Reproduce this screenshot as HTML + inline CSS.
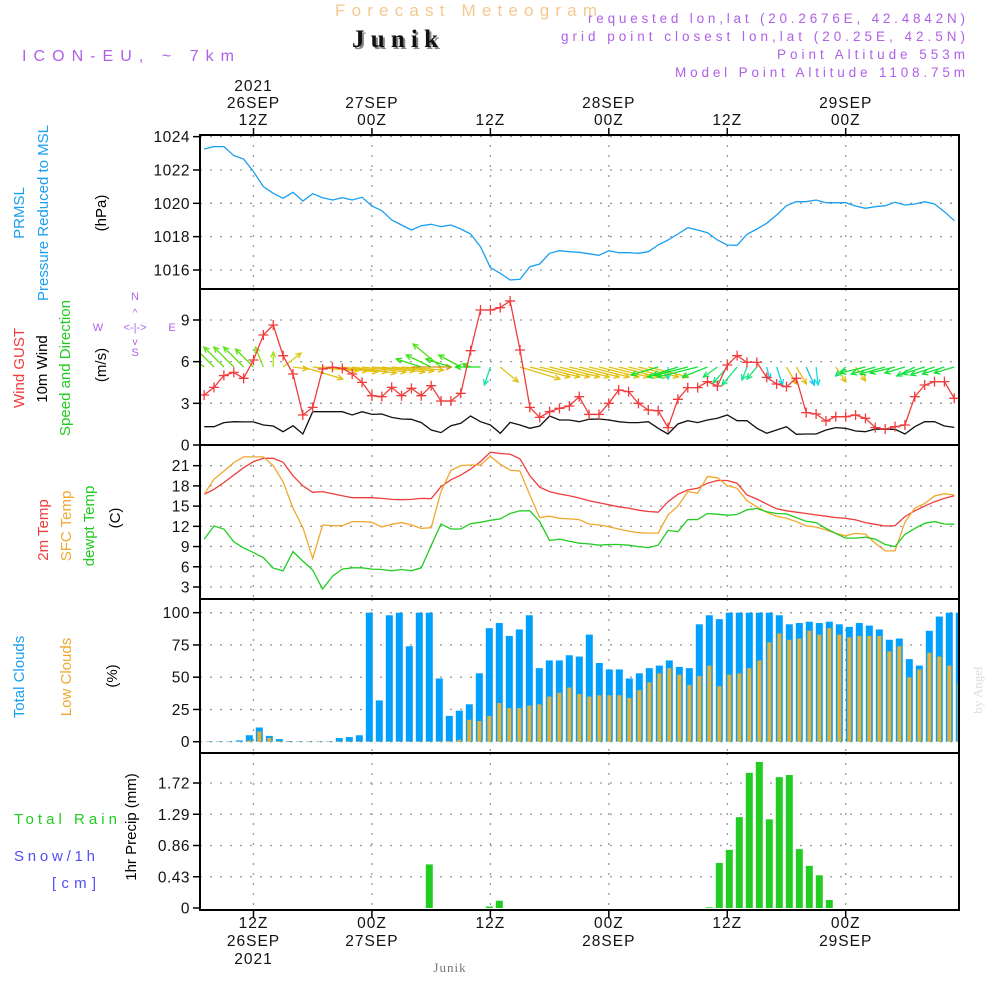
<!DOCTYPE html>
<html><head><meta charset="utf-8"><style>
html,body{margin:0;padding:0;background:#fff;}
svg{display:block;font-family:"Liberation Sans",sans-serif;}
</style></head><body>
<svg id="chart" width="1000" height="1000" viewBox="0 0 1000 1000" xmlns="http://www.w3.org/2000/svg">
<rect x="0" y="0" width="1000" height="1000" fill="#fff"/>
<g>
<text x="335" y="16" font-size="17" fill="#f5c890" textLength="262" lengthAdjust="spacing">Forecast Meteogram</text>
<text x="354" y="49" font-size="25" font-weight="bold" fill="#888" font-family="Liberation Serif, serif" textLength="86" lengthAdjust="spacing">Junik</text>
<text x="352" y="47" font-size="25" font-weight="bold" fill="#111" font-family="Liberation Serif, serif" textLength="86" lengthAdjust="spacing">Junik</text>
<text x="22" y="61" font-size="16" fill="#b060e8" textLength="212" lengthAdjust="spacing">ICON-EU, ~ 7km</text>
<g font-size="13.5" fill="#b060e8">
<text x="588" y="23" textLength="377" lengthAdjust="spacing">requested lon,lat (20.2676E, 42.4842N)</text>
<text x="561" y="41" textLength="404" lengthAdjust="spacing">grid point closest lon,lat (20.25E, 42.5N)</text>
<text x="777" y="59" textLength="188" lengthAdjust="spacing">Point Altitude 553m</text>
<text x="675" y="77" textLength="290" lengthAdjust="spacing">Model Point Altitude 1108.75m</text>
</g>
</g>
<g font-size="15">
<text transform="translate(24,213) rotate(-90)" text-anchor="middle" fill="#1a9ff0">PRMSL</text>
<text transform="translate(48,213) rotate(-90)" text-anchor="middle" fill="#1a9ff0">Pressure Reduced to MSL</text>
<text transform="translate(106,213) rotate(-90)" text-anchor="middle" fill="#000">(hPa)</text>
<text transform="translate(24,368) rotate(-90)" text-anchor="middle" fill="#f03c3c">Wind GUST</text>
<text transform="translate(47,369) rotate(-90)" text-anchor="middle" fill="#000">10m Wind</text>
<text transform="translate(70,368) rotate(-90)" text-anchor="middle" fill="#22cc22">Speed and Direction</text>
<text transform="translate(106,365) rotate(-90)" text-anchor="middle" fill="#000">(m/s)</text>
<g fill="#b060e8" font-size="11" text-anchor="middle">
<text x="98" y="331">W</text><text x="172" y="331">E</text><text x="135" y="300">N</text><text x="135" y="356">S</text>
<text x="135" y="331">&lt;-|-&gt;</text><text x="135" y="316" font-size="10">^</text><text x="135" y="345" font-size="10">v</text>
</g>
<text transform="translate(48,530) rotate(-90)" text-anchor="middle" fill="#f03c3c">2m Temp</text>
<text transform="translate(71,526) rotate(-90)" text-anchor="middle" fill="#f0a830">SFC Temp</text>
<text transform="translate(94,526) rotate(-90)" text-anchor="middle" fill="#22cc22">dewpt Temp</text>
<text transform="translate(120,518) rotate(-90)" text-anchor="middle" fill="#000">(C)</text>
<text transform="translate(24,677) rotate(-90)" text-anchor="middle" fill="#1a9ff0">Total Clouds</text>
<text transform="translate(71,677) rotate(-90)" text-anchor="middle" fill="#f0a830">Low Clouds</text>
<text transform="translate(117,676) rotate(-90)" text-anchor="middle" fill="#000">(%)</text>
<text x="14" y="824" fill="#22cc22" textLength="103" lengthAdjust="spacing">Total   Rain</text>
<text x="14" y="861" fill="#5050f0" textLength="81" lengthAdjust="spacing">Snow/1h</text>
<text x="52" y="888" fill="#5050f0" textLength="44" lengthAdjust="spacing">[cm]</text>
<text transform="translate(136,827) rotate(-90)" text-anchor="middle" fill="#000">1hr Precip (mm)</text>
<text transform="translate(982,690) rotate(-90)" text-anchor="middle" fill="#ddd" font-size="13" font-family="Liberation Serif, serif">by Angel</text>
<text x="450" y="972" text-anchor="middle" fill="#777" font-size="13" font-family="Liberation Serif, serif" letter-spacing="1">Junik</text>
</g>
<g id="plots"></g>
</svg>
<script>
const hours = []; for (let h = -5; h <= 71; h++) hours.push(h);
const pressure = [1023.26,1023.4,1023.4,1022.86,1022.66,1021.9,1021.0,1020.6,1020.3,1020.66,1020.14,1020.58,1020.34,1020.2,1020.34,1020.2,1020.36,1019.84,1019.56,1019.0,1018.7,1018.4,1018.66,1018.74,1018.6,1018.7,1018.46,1018.16,1017.4,1016.14,1015.8,1015.4,1015.44,1016.2,1016.36,1017.0,1017.16,1017.1,1017.06,1016.97,1016.88,1017.16,1017.04,1017.04,1017.0,1017.1,1017.5,1017.8,1018.16,1018.54,1018.4,1018.24,1017.8,1017.5,1017.48,1018.14,1018.46,1018.8,1019.3,1019.86,1020.1,1020.1,1020.2,1020.04,1020.04,1020.04,1019.84,1019.7,1019.8,1019.86,1020.06,1019.9,1019.96,1020.1,1019.96,1019.5,1018.96];
const gust = [3.6,4.15,5.0,5.23,4.8,6.12,7.92,8.64,6.43,5.11,2.16,2.71,5.47,5.6,5.52,5.11,4.51,3.55,3.48,4.15,3.55,4.08,3.55,4.27,3.17,3.17,3.72,6.79,9.72,9.72,9.89,10.37,6.84,2.71,1.99,2.4,2.64,2.81,3.48,2.2,2.2,3.0,3.96,3.84,3.0,2.52,2.47,1.25,3.29,4.13,4.13,4.56,4.25,5.76,6.43,5.95,5.95,4.87,4.39,4.2,4.8,2.33,2.23,1.73,2.04,2.04,2.16,1.92,1.25,1.15,1.32,1.44,3.48,4.32,4.56,4.56,3.36];
const windSpeed = [1.32,1.32,1.61,1.68,1.66,1.66,1.44,1.37,0.96,1.39,0.79,2.4,2.4,2.4,2.4,2.16,2.4,2.2,2.23,1.99,1.87,1.85,1.61,1.08,0.89,1.39,1.56,2.09,1.68,1.44,0.84,1.63,1.44,1.2,1.37,2.09,1.8,1.8,1.68,1.85,1.87,1.8,1.68,1.61,1.61,1.68,1.2,0.79,1.51,1.75,1.61,1.8,1.92,2.16,1.75,1.75,1.2,0.84,1.08,1.32,0.77,0.79,0.79,1.08,1.25,1.2,1.01,0.96,1.15,1.13,1.13,0.79,1.32,1.68,1.68,1.37,1.27];
const windU = [-1.5,-2,-2,-2,-2,-1.8,-0.8,0,1.8,1.5,4,4.5,4.5,4.5,4.5,4.4,4.4,4.3,4.3,4.2,4.2,4.0,-2.5,-2.5,-2.8,-2.5,-2.2,-0.8,-2.5,-0.6,1.8,0,4,4,4,4,4,4,4,4,4,4,4,4,4,4,-2.7,0,-2.5,-4,-4,-2.5,-1.4,-1.4,-1.5,-0.5,-1,0.3,0.6,1,1,0.8,0.2,0,1,-1,1,-2.5,-2.4,-2.5,-2.5,-2,-1.8,-2.2,-2.4,-2.2,-2];
const windV = [1.2,2,2,2,2,1.8,2,1.5,1.4,-0.2,-1.2,-0.4,-0.4,-0.5,-0.5,-0.6,-0.5,-0.4,-0.5,-0.4,-0.3,0,0.8,1.2,2.3,0.8,1.2,0.3,0,-1.8,-1.5,0,-1.2,-1,-1,-1,-1,-1,-1,-1,-1,-1,-1,-1,-1,-1,-0.8,-1.2,-0.8,-1,-1,-1,-1,-1.6,-1.8,-1.3,-1.2,-1.2,-1.8,-1.7,-1.7,-1.8,-1.8,0,-1.5,-0.9,-1.4,-0.6,-0.7,-0.7,-0.6,-0.6,-0.9,-0.7,-0.8,-0.7,-0.6];
const temp2m = [16.75,17.5,18.5,19.6,20.7,21.6,22.1,22.1,21.5,19.5,18.0,17.05,17.15,16.85,16.55,16.25,16.25,16.25,16.15,16.0,15.95,16.0,16.15,16.1,17.9,18.9,19.6,20.5,21.6,23.0,22.8,22.7,22.0,19.5,17.8,17.15,16.8,16.55,16.2,15.8,15.5,15.2,14.9,14.7,14.4,14.2,14.1,15.65,16.75,17.4,17.65,18.4,18.8,18.8,18.4,16.65,16.05,15.3,14.6,14.3,14.1,13.9,13.7,13.5,13.3,13.2,12.95,12.55,12.3,12.05,12.1,13.45,14.3,15.0,15.65,16.15,16.55];
const tempSfc = [16.75,19.0,20.2,21.45,22.3,22.3,22.3,21.0,18.6,14.7,11.8,7.25,12.2,12.1,12.1,12.7,12.7,12.6,11.9,12.3,12.55,12.2,11.7,11.8,17.15,20.3,21.0,21.1,21.1,22.4,21.2,20.35,20.2,16.6,13.3,13.5,13.2,13.1,13.0,12.35,12.2,11.95,11.6,11.3,11.05,11.0,11.0,13.7,15.0,17.15,16.9,19.4,19.2,18.05,17.65,15.8,14.9,14.1,13.5,13.2,12.7,12.05,11.9,11.45,10.95,10.6,10.95,10.85,9.5,8.35,8.35,12.6,14.7,15.4,16.5,16.85,16.65];
const dewpt = [10.1,12.05,11.6,9.7,8.8,8.1,7.35,5.8,5.4,8.25,6.85,5.5,2.7,4.6,5.65,5.85,5.85,5.65,5.6,5.4,5.6,5.4,5.85,9.15,12.35,11.6,11.6,12.4,12.6,12.9,13.1,13.9,14.3,14.3,12.7,9.9,10.1,9.8,9.5,9.4,9.2,9.3,9.3,9.2,9.0,8.85,9.2,11.4,11.2,13.0,13.0,13.9,13.8,13.65,13.75,14.45,14.65,14.15,13.9,13.85,13.3,12.75,12.55,11.7,10.95,10.25,10.25,10.4,10.1,9.3,9.0,10.8,11.7,12.45,12.7,12.35,12.3];
const barHours = []; for (let k = -4; k <= 71; k++) barHours.push(k);
const totalClouds = [0.3,0.3,0.3,1,5,11,4.5,2,0.5,0.3,0.3,0.3,0.3,2.8,3.6,5,100,32,98,100,74,100,100,49,20,24,29,53,88,92,82,87,98,57,63,63,67,66,83,61,56,56,49,53,57,59,63,58,57,91,98,95,100,100,100,100,100,98,91,92,93,92,93,91,89,92,90,87,79,80,64,59,86,97,100,100];
const lowClouds = [0.2,0.2,0.2,0.2,1,8,3,0.5,0.3,0.3,0.3,0.3,0.3,0.3,0.3,0.3,0.3,0.3,0.3,0.3,0.3,0.3,0.3,0.5,0.5,1.5,17,16,20,30,26,26,28,29,35,38,42,37,35,36,36,36,34,40,46,53,57,52,44,51,59,43,52,53,57,63,77,84,79,80,86,83,88,83,81,82,82,82,70,74,50,56,69,66,59,45];
const precip = [0,0,0,0,0,0,0,0,0,0,0,0,0,0,0,0,0,0,0,0,0,0,0.6,0,0,0,0,0,0.02,0.1,0,0,0,0,0,0,0,0,0,0,0,0,0,0,0,0,0,0,0,0,0.01,0.62,0.80,1.25,1.86,2.01,1.22,1.80,1.83,0.81,0.58,0.45,0.11,0,0,0,0,0,0,0,0,0,0,0,0,0];
const pressTicks = [1016,1018,1020,1022,1024];
const windTicks = [0,3,6,9];
const tempTicks = [3,6,9,12,15,18,21];
const cloudTicks = [0,25,50,75,100];
const precipTicks = [0,0.43,0.86,1.29,1.72];
const topLabels = [{h:0,l:["2021","26SEP","12Z"]},{h:12,l:["27SEP","00Z"]},{h:24,l:["12Z"]},{h:36,l:["28SEP","00Z"]},{h:48,l:["12Z"]},{h:60,l:["29SEP","00Z"]}];
const botLabels = [{h:0,l:["12Z","26SEP","2021"]},{h:12,l:["00Z","27SEP"]},{h:24,l:["12Z"]},{h:36,l:["00Z","28SEP"]},{h:48,l:["12Z"]},{h:60,l:["00Z","29SEP"]}];

const NS = "http://www.w3.org/2000/svg";
const L = 200, R = 959;
const x = h => 253.5 + 9.87 * h;
const bx = k => 249.3 + 10 * k;
const yP = v => 270 - (v - 1016) * 16.67;
const yW = v => 445 - v * 13.89;
const yT = v => 587 - (v - 3) * 6.74;
const yC = v => 741.7 - v * 1.29;
const yR = v => 908 - v * 72.67;
const panels = [{t:135,b:289},{t:289,b:445},{t:445,b:599},{t:599,b:753},{t:753,b:910}];
const root = document.getElementById('plots');
function mk(tag, attrs, parent) { const e = document.createElementNS(NS, tag); for (const k in attrs) e.setAttribute(k, attrs[k]); (parent || root).appendChild(e); return e; }

const clip = mk('clipPath', {id: 'pc'}); mk('rect', {x: L, y: 135, width: R - L, height: 775}, clip);

const grid = mk('g', {stroke: '#999', 'stroke-width': 1.3, 'stroke-dasharray': '2 8'});


for (let h = 0; h <= 60; h += 12) {
  panels.forEach(p => { mk('line', {x1: x(h), x2: x(h), y1: p.t, y2: p.b}, grid); });
}
function hgrid(ticks, yf, name) { ticks.forEach(t => { const ln = mk('line', {x1: L, x2: R, y1: yf(t), y2: yf(t)}, grid);   }); }
hgrid(pressTicks, yP, 'pressure-gridline'); hgrid(windTicks.slice(1), yW, 'wind-gridline'); hgrid(tempTicks, yT, 'temp-gridline'); hgrid(cloudTicks, yC, 'cloud-gridline'); hgrid(precipTicks.slice(1), yR, 'precip-gridline');

function ticks(arr, yf, fmt, name) {
  arr.forEach(t => {
    const tx = mk('text', {x: 190, y: yf(t) + 5.5, 'text-anchor': 'end', 'font-size': 15.5, fill: '#111', 'letter-spacing': 0.5});
    
    
    tx.textContent = fmt(t);
    mk('line', {x1: 193, x2: L, y1: yf(t), y2: yf(t), stroke: '#000', 'stroke-width': 1.5});
  });
}
ticks(pressTicks, yP, String, 'pressure-tick-label');
ticks(windTicks, yW, String, 'wind-tick-label');
ticks(tempTicks, yT, String, 'temp-tick-label');
ticks(cloudTicks, yC, String, 'cloud-tick-label');
ticks(precipTicks, yR, t => t === 0 ? '0' : t.toFixed(2), 'precip-tick-label');

topLabels.forEach(o => { const n = o.l.length; o.l.forEach((s, i) => {
  const tx = mk('text', {x: x(o.h), y: 125 - (n - 1 - i) * 17, 'text-anchor': 'middle', 'font-size': 15.5, fill: '#111', 'letter-spacing': 1});
  
  
  tx.textContent = s; });
  mk('line', {x1: x(o.h), x2: x(o.h), y1: 128, y2: 135, stroke: '#000', 'stroke-width': 1.5});
});
botLabels.forEach(o => { o.l.forEach((s, i) => {
  const tx = mk('text', {x: x(o.h), y: 928 + i * 18, 'text-anchor': 'middle', 'font-size': 15.5, fill: '#111', 'letter-spacing': 1});
  
  
  tx.textContent = s; });
  mk('line', {x1: x(o.h), x2: x(o.h), y1: 910, y2: 918, stroke: '#000', 'stroke-width': 1.5});
});

const plot = mk('g', {'clip-path': 'url(#pc)'});
function line(vals, yf, color, name) {
  const pts = vals.map((v, i) => x(hours[i]).toFixed(1) + ',' + yf(v).toFixed(1)).join(' ');
  const pl = mk('polyline', {points: pts, fill: 'none', stroke: color, 'stroke-width': 1.3}, plot);
  
  
  return pl;
}
line(pressure, yP, '#1a9ff0', 'pressure-line');

function arrowHue(a) {
  if (a <= 180) return 35 + a * 0.47;
  if (a <= 300) return 120 + (a - 180) * 0.6;
  return 50;
}
windU.forEach((u, i) => {
  const v = windV[i];
  if (u === 0 && v === 0) return;
  const x0 = x(hours[i]), y0 = 367, s = 10;
  const x1 = x0 + u * s, y1 = y0 - v * s;
  let a = Math.atan2(v, u) * 180 / Math.PI; a = (a + 360) % 360;
  const col = 'hsl(' + arrowHue(a) + ',85%,48%)';
  const g = mk('g', {stroke: col, 'stroke-width': 1.3, fill: 'none'}, plot);
  
  
  mk('line', {x1: x0, y1: y0, x2: x1, y2: y1}, g);
  const ang = Math.atan2(y1 - y0, x1 - x0), hl = 6;
  mk('polyline', {points: (x1 - hl * Math.cos(ang - 0.45)) + ',' + (y1 - hl * Math.sin(ang - 0.45)) + ' ' + x1 + ',' + y1 + ' ' + (x1 - hl * Math.cos(ang + 0.45)) + ',' + (y1 - hl * Math.sin(ang + 0.45))}, g);
});
line(windSpeed, yW, '#111', 'wind-speed-line');
line(gust, yW, '#f03c3c', 'gust-line');
gust.forEach((v, i) => {
  const cx = x(hours[i]), cy = yW(v);
  const m = mk('path', {d: 'M' + (cx - 5) + ' ' + cy + 'h10M' + cx + ' ' + (cy - 5) + 'v10', stroke: '#f03c3c', 'stroke-width': 1.3}, plot);
  
  
});

line(temp2m, yT, '#f03c3c', 'temp-2m-line');
line(tempSfc, yT, '#f0a830', 'temp-sfc-line');
line(dewpt, yT, '#22cc22', 'dewpoint-line');

totalClouds.forEach((v, i) => {
  const c = bx(barHours[i]);
  const r = mk('rect', {x: c - 3.5, y: yC(v), width: 7, height: yC(0) - yC(v), fill: '#00a0ff'}, plot);
  
  
});
lowClouds.forEach((v, i) => {
  const c = bx(barHours[i]);
  const r = mk('rect', {x: c - 2, y: yC(v), width: 4, height: yC(0) - yC(v), fill: '#e8b030'}, plot);
  
  
});
precip.forEach((v, i) => {
  if (v <= 0) return;
  const c = bx(barHours[i]);
  const r = mk('rect', {x: c - 3.5, y: yR(v), width: 7, height: yR(0) - yR(v), fill: '#22cc22'}, plot);
  
  
});

panels.forEach(p => {
  const fr = mk('rect', {x: L, y: p.t, width: R - L, height: p.b - p.t, fill: 'none', stroke: '#000', 'stroke-width': 2});
  
  
});
</script>
</body></html>
